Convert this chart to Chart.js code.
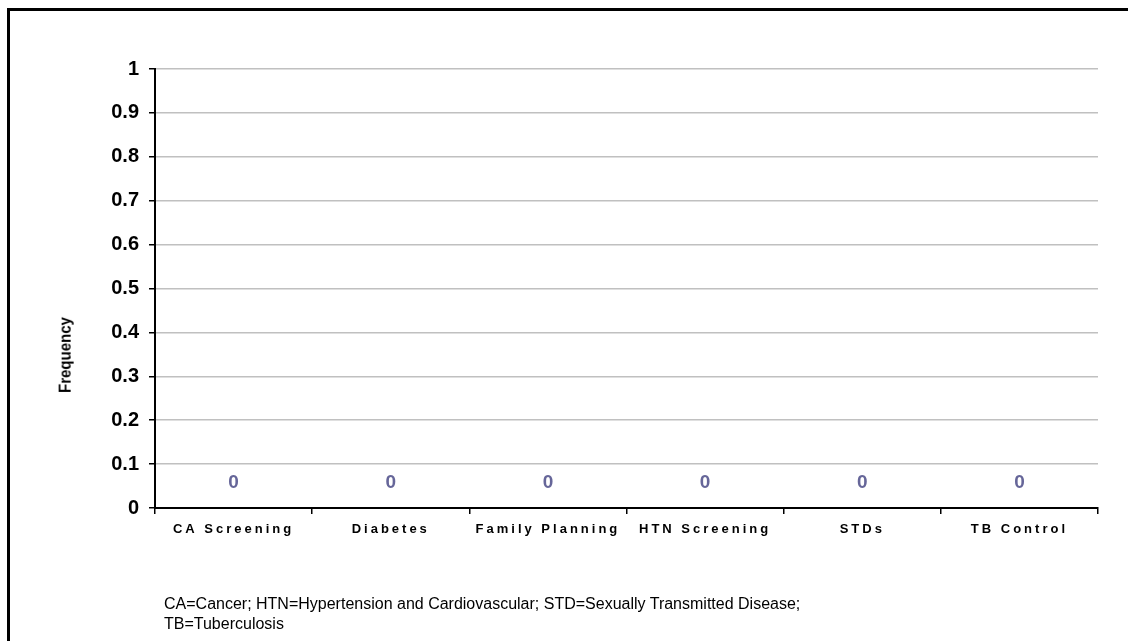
<!DOCTYPE html>
<html>
<head>
<meta charset="utf-8">
<script src="https://cdn.jsdelivr.net/npm/chart.js@4.4.1/dist/chart.umd.min.js"></script>
<style>
  body { margin:0; background:#fff; font-family:"Liberation Sans", Arial, sans-serif; }
  #wrap { position:relative; width:1128px; height:641px; overflow:hidden; }
  #frame { position:absolute; left:7px; top:8px; width:1200px; height:700px;
           border-left:3px solid #000; border-top:3px solid #000; }
  #chart { position:absolute; left:0; top:0; }
  #ytitle { position:absolute; left:65px; top:355px; transform:translate(-50%,-50%) rotate(-90deg) scaleY(1.1);
            font-weight:bold; font-size:15px; white-space:nowrap; }
  #note { position:absolute; left:164px; top:594px; font-size:16px; line-height:20px; color:#000; }
</style>
</head>
<body>
<div id="wrap">
  <div id="frame"></div>
  <canvas id="chart" width="1128" height="641"></canvas>
  <div id="ytitle">Frequency</div>
  <div id="note">CA=Cancer; HTN=Hypertension and Cardiovascular; STD=Sexually Transmitted Disease;<br>TB=Tuberculosis</div>
</div>
<script>
// categories and values
const categories = ['CA Screening','Diabetes','Family Planning','HTN Screening','STDs','TB Control'];
const frequency = [0, 0, 0, 0, 0, 0];
const yTicks = [0, 0.1, 0.2, 0.3, 0.4, 0.5, 0.6, 0.7, 0.8, 0.9, 1];

const fontFam = '"Liberation Sans", Arial, sans-serif';

// x labels have wide letter spacing, y labels don't
const spacing = {
  id: 'spacing',
  beforeDraw(chart){ chart.ctx.letterSpacing = '3px'; },
  beforeDatasetsDraw(chart){ chart.ctx.letterSpacing = '0px'; }
};

// value labels above each (zero) bar
const valueLabels = {
  id: 'valueLabels',
  afterDatasetsDraw(chart){
    const ctx = chart.ctx;
    const meta = chart.getDatasetMeta(0);
    ctx.save();
    ctx.letterSpacing = '0px';
    ctx.font = 'bold 19px ' + fontFam;
    ctx.fillStyle = '#666699';
    ctx.textAlign = 'center';
    ctx.textBaseline = 'bottom';
    meta.data.forEach((bar, i) => {
      ctx.fillText(String(frequency[i]), bar.x, bar.y - 16);
    });
    ctx.restore();
  }
};

new Chart(document.getElementById('chart'), {
  type: 'bar',
  data: {
    labels: categories,
    datasets: [{
      label: 'Frequency',
      data: frequency,
      backgroundColor: '#666699'
    }]
  },
  options: {
    responsive: false,
    animation: false,
    layout: { padding: { top: 69, right: 30, left: 0, bottom: 0 } },
    plugins: { legend: { display: false }, tooltip: { enabled: false } },
    scales: {
      x: {
        offset: true,
        grid: { offset: true, drawOnChartArea: false, drawTicks: true, tickLength: 6, color: '#000', lineWidth: 1.5 },
        border: { color: '#000', width: 2 },
        ticks: { color: '#000', font: { family: fontFam, size: 13, weight: 'bold' }, padding: 8, maxRotation: 0 },
        afterFit(s){ s.height = 133; }
      },
      y: {
        min: 0, max: 1,
        afterBuildTicks(s){ s.ticks = yTicks.map(v => ({ value: v })); },
        grid: { color: '#c0c0c0', lineWidth: 1.5, tickLength: 6, tickColor: '#000', drawTicks: true },
        border: { color: '#000', width: 2 },
        ticks: { z: 1, color: '#000', font: { family: fontFam, size: 20, weight: 'bold' }, padding: 10,
                 callback: v => String(v) },
        afterFit(s){ s.width = 155; }
      }
    }
  },
  plugins: [spacing, valueLabels]
});
</script>
</body>
</html>
